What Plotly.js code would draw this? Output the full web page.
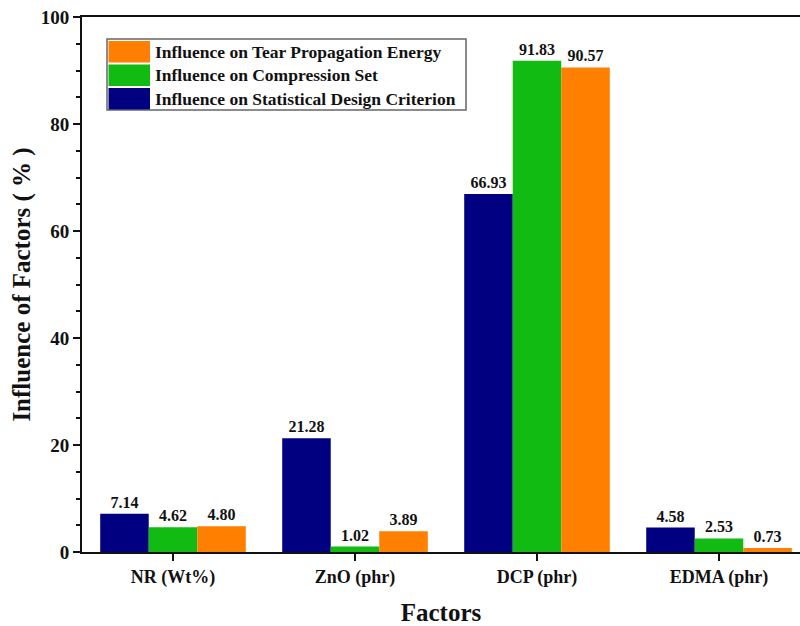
<!DOCTYPE html>
<html>
<head>
<meta charset="utf-8">
<script src="https://cdn.plot.ly/plotly-3.0.1.min.js"></script>
<style>html,body{margin:0;padding:0;background:#fff;overflow:hidden}</style>
</head>
<body>
<div id="chart" style="width:800px;height:626px"></div>
<script>
const categories = ["NR (Wt%)", "ZnO (phr)", "DCP (phr)", "EDMA (phr)"];
const statisticalDesign = [7.14, 21.28, 66.93, 4.58];
const compressionSet = [4.62, 1.02, 91.83, 2.53];
const tearEnergy = [4.80, 3.89, 90.57, 0.73];
const seriesNames = ["Influence on Statistical Design Criterion", "Influence on Compression Set", "Influence on Tear Propagation Energy"];
const seriesColors = ["#000080", "#11BB11", "#FF7F00"];
const yTicks = [0, 20, 40, 60, 80, 100];

const FONT = "Liberation Serif, Times New Roman, serif";
const W = 800, H = 626;
const M = {l: 82, r: 0, t: 17, b: 74};
const PW = W - M.l - M.r, PH = H - M.t - M.b;
const px = x => (x - M.l) / PW;          // pixel -> paper x
const py = y => (H - M.b - y) / PH;      // pixel -> paper y

const seriesValues = [statisticalDesign, compressionSet, tearEnergy];
const data = seriesValues.map((vals, i) => ({
  type: "bar",
  name: seriesNames[i],
  x: categories,
  y: vals,
  marker: {color: seriesColors[i], line: {width: 0}},
  text: vals.map(v => v.toFixed(2)),
  textposition: "outside",
  textfont: {family: FONT, size: 16, color: "#111", weight: "bold"},
  cliponaxis: false,
  hoverinfo: "none",
  showlegend: false
}));

// custom legend (reversed order: last series on top)
const shapes = [{
  type: "rect", xref: "paper", yref: "paper",
  x0: px(107), x1: px(466), y0: py(39), y1: py(110),
  line: {color: "#666", width: 1.5}, fillcolor: "#fff", layer: "above"
}];
const annotations = [];
const order = [2, 1, 0];
order.forEach((si, k) => {
  const top = 41 + k * 23.5;
  shapes.push({
    type: "rect", xref: "paper", yref: "paper",
    x0: px(108.5), x1: px(150), y0: py(top), y1: py(top + 21.5),
    line: {width: 0}, fillcolor: seriesColors[si], layer: "above"
  });
  annotations.push({
    xref: "paper", yref: "paper", x: px(153), y: py(top + 11),
    xanchor: "left", yanchor: "middle", showarrow: false,
    text: seriesNames[si],
    font: {family: FONT, size: 17.5, color: "#111", weight: "bold"}
  });
});

const layout = {
  width: W, height: H,
  margin: M,
  paper_bgcolor: "#fff", plot_bgcolor: "#fff",
  barmode: "group", bargap: 0.2, bargroupgap: 0,
  showlegend: false,
  shapes: shapes,
  annotations: annotations,
  font: {family: FONT, color: "#111"},
  xaxis: {
    range: [-0.5, 3.445],
    showline: true, linecolor: "#111", linewidth: 2, mirror: true,
    ticks: "outside", ticklen: 7, tickwidth: 2, tickcolor: "#111",
    tickfont: {family: FONT, size: 18, weight: "bold"},
    showgrid: false, zeroline: false,
    title: {text: "Factors", font: {family: FONT, size: 25, weight: "bold"}, standoff: 18}
  },
  yaxis: {
    range: [0, 100],
    tickvals: yTicks, ticktext: yTicks.map(String),
    showline: true, linecolor: "#111", linewidth: 2,
    ticks: "outside", ticklen: 7, tickwidth: 2, tickcolor: "#111",
    minor: {dtick: 5, ticks: "outside", ticklen: 4, tickwidth: 2, tickcolor: "#111", showgrid: false},
    tickfont: {family: FONT, size: 19, weight: "bold"},
    showgrid: false, zeroline: false,
    title: {text: "Influence of Factors ( % )", font: {family: FONT, size: 25, weight: "bold"}, standoff: 3}
  }
};
Plotly.newPlot("chart", data, layout, {displayModeBar: false, staticPlot: true});
</script>
</body>
</html>
